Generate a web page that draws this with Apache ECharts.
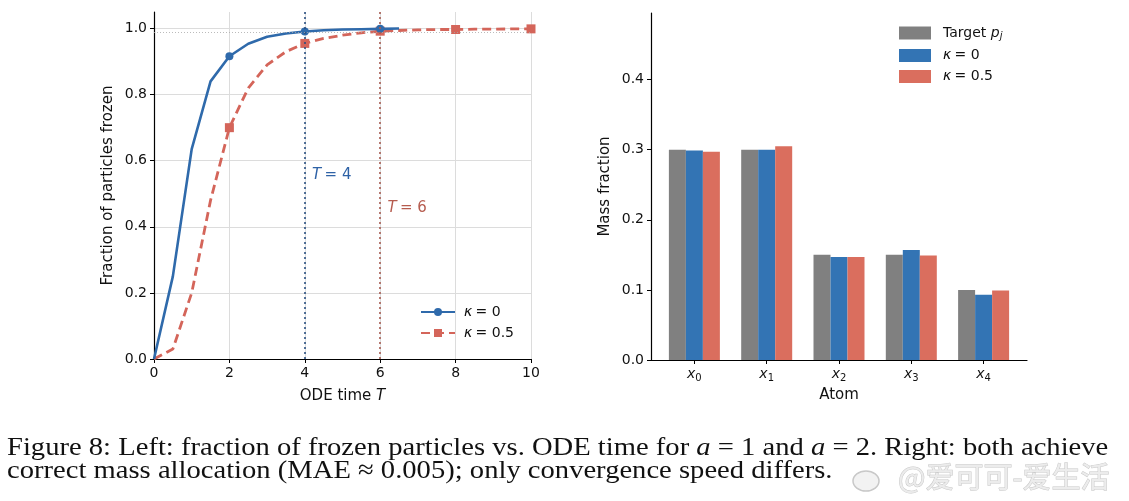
<!DOCTYPE html>
<html>
<head>
<meta charset="utf-8">
<script src="https://cdn.jsdelivr.net/npm/echarts@6/dist/echarts.min.js"></script>
<style>
  html, body { margin: 0; padding: 0; background: #fff; }
  #main { width: 1129px; height: 501px; }
</style>
</head>
<body>
<div id="main"></div>
<script>
// left panel: fraction frozen vs ODE time
const timeK0 = [0, 0.5, 1, 1.5, 2, 2.5, 3, 3.5, 4, 4.5, 5, 5.5, 6, 6.5];
const fracK0 = [0, 0.25, 0.635, 0.84, 0.916, 0.954, 0.975, 0.985, 0.991, 0.995, 0.997, 0.998, 0.999, 1.0];
const timeK05 = [0, 0.5, 1, 1.5, 2, 2.5, 3, 3.5, 4, 4.5, 5, 5.5, 6, 6.5, 7, 7.5, 8, 8.5, 9, 9.5, 10];
const fracK05 = [0, 0.03, 0.2, 0.48, 0.70, 0.82, 0.89, 0.93, 0.955, 0.97, 0.98, 0.987, 0.992, 0.994, 0.996, 0.997, 0.997, 0.998, 0.998, 0.999, 0.999];
const markerTimes = [2, 4, 6, 8, 10];
const xTicksLeft = [0, 2, 4, 6, 8, 10];
const yTicksLeft = [0, 0.2, 0.4, 0.6, 0.8, 1.0];

// right panel: mass allocation per atom
const atoms = ["0", "1", "2", "3", "4"];
const atomPos = [0, 1, 2, 3, 4];
const targetP = [0.300, 0.300, 0.150, 0.150, 0.100];
const massK0 = [0.299, 0.300, 0.147, 0.157, 0.093];
const massK05 = [0.297, 0.305, 0.147, 0.149, 0.099];
const yTicksRight = [0, 0.1, 0.2, 0.3, 0.4];

const blue = "#2f6aab";
const red = "#d4655a";
const barBlue = "#3374b4";
const barRed = "#da6e5e";
const barGray = "#808080";
const font = "DejaVu Sans";
const serif = "'Liberation Serif'";

const chart = echarts.init(document.getElementById("main"));

function pairs(xs, ys) {
  return xs.map((x, i) => [x, ys[i]]);
}
function markSize(size) {
  return (val) => (markerTimes.includes(val[0]) ? size : 0);
}

const mathRich = {
  i: { fontStyle: "italic", fontFamily: font, fontSize: 14, color: "#111" },
  n: { fontFamily: font, fontSize: 14, color: "#111" },
  s: { fontStyle: "italic", fontFamily: font, fontSize: 10, color: "#111", padding: [7, 0, 0, 0] },
  u: { fontFamily: font, fontSize: 10, color: "#111", padding: [7, 0, 0, 0] },
};
const nameRich = {
  n: { fontFamily: font, fontSize: 15, color: "#111" },
  i: { fontFamily: font, fontSize: 15, color: "#111", fontStyle: "italic" },
};

let option = {
  animation: false,
  grid: [
    { left: 154, top: 12, width: 377, height: 347 },
    { left: 651, top: 13, width: 376, height: 347 },
  ],
  legend: [
    {
      orient: "vertical",
      left: 420,
      top: 305,
      padding: 0,
      itemWidth: 34,
      itemHeight: 10,
      itemGap: 7,
      data: ["k0", "k05"],
      formatter: (name) => (name === "k0" ? "{i|κ} {n|= 0}" : "{i|κ} {n|= 0.5}"),
      textStyle: { rich: mathRich, padding: [0, 0, 0, 4] },
    },
    {
      orient: "vertical",
      left: 899,
      top: 26,
      padding: 0,
      itemWidth: 32,
      itemHeight: 13,
      itemGap: 7,
      icon: "rect",
      data: ["target", "b0", "b05"],
      formatter: (name) =>
        name === "target" ? "{n|Target }{i|p}{s|j}" : name === "b0" ? "{i|κ} {n|= 0}" : "{i|κ} {n|= 0.5}",
      textStyle: { rich: mathRich, padding: [0, 0, 0, 7] },
    },
  ],
  xAxis: [
    {
      type: "value",
      gridIndex: 0,
      min: 0,
      max: 10,
      name: "{n|ODE time }{i|T}",
      nameLocation: "middle",
      nameGap: 30,
      nameTextStyle: { rich: nameRich },
      axisLine: { lineStyle: { color: "#000", width: 1.2 } },
      axisTick: { show: true, length: 4, lineStyle: { color: "#000" }, customValues: xTicksLeft },
      axisLabel: { fontFamily: font, fontSize: 14, color: "#111", margin: 7, customValues: xTicksLeft },
      splitLine: { show: true, lineStyle: { color: "#dcdcdc", width: 1 } },
    },
    {
      type: "value",
      gridIndex: 1,
      min: -0.6,
      max: 4.6,
      name: "Atom",
      nameLocation: "middle",
      nameGap: 28,
      nameTextStyle: { fontFamily: font, fontSize: 15, color: "#111" },
      axisLine: { onZero: false, lineStyle: { color: "#000", width: 1.2 } },
      axisTick: { show: true, length: 4, lineStyle: { color: "#000" }, customValues: atomPos },
      axisLabel: {
        customValues: atomPos,
        margin: 6,
        formatter: (v) => "{i|x}{u|" + atoms[Math.round(v)] + "}",
        rich: mathRich,
      },
      splitLine: { show: false },
    },
  ],
  yAxis: [
    {
      type: "value",
      gridIndex: 0,
      min: 0,
      max: 1.05,
      name: "Fraction of particles frozen",
      nameLocation: "middle",
      nameGap: 38,
      nameTextStyle: { fontFamily: font, fontSize: 15, color: "#111" },
      axisLine: { show: true, onZero: false, lineStyle: { color: "#000", width: 1.2 } },
      axisTick: { show: true, length: 4, lineStyle: { color: "#000" }, customValues: yTicksLeft },
      axisLabel: { fontFamily: font, fontSize: 14, color: "#111", margin: 7,
        customValues: yTicksLeft, formatter: (v) => v.toFixed(1) },
      splitLine: { show: true, lineStyle: { color: "#dcdcdc", width: 1 } },
    },
    {
      type: "value",
      gridIndex: 1,
      min: 0,
      max: 0.495,
      name: "Mass fraction",
      nameLocation: "middle",
      nameGap: 38,
      nameTextStyle: { fontFamily: font, fontSize: 15, color: "#111" },
      axisLine: { show: true, onZero: false, lineStyle: { color: "#000", width: 1.2 } },
      axisTick: { show: true, length: 4, lineStyle: { color: "#000" }, customValues: yTicksRight },
      axisLabel: { fontFamily: font, fontSize: 14, color: "#111", margin: 7,
        customValues: yTicksRight, formatter: (v) => v.toFixed(1) },
      splitLine: { show: false },
    },
  ],
  series: [
    {
      name: "k0",
      type: "line",
      xAxisIndex: 0,
      yAxisIndex: 0,
      data: pairs(timeK0, fracK0),
      symbol: "circle",
      symbolSize: markSize(8),
      showAllSymbol: true,
      color: blue,
      lineStyle: { color: blue, width: 2.6 },
      itemStyle: { color: blue },
      z: 4,
      markLine: {
        silent: true,
        symbol: "none",
        label: { show: false },
        data: [
          { xAxis: 4, lineStyle: { color: "#2a4f80", type: [2, 3], width: 1.6 } },
          [
            { coord: [0, 0.99], lineStyle: { color: "#aaaaaa", type: [1, 2], width: 0.8 } },
            { coord: [10, 0.99] },
          ],
        ],
      },
      markPoint: {
        silent: true,
        symbol: "rect",
        symbolSize: 1,
        itemStyle: { color: "rgba(0,0,0,0)" },
        data: [{
          coord: [4.18, 0.557],
          label: {
            show: true, position: "right", distance: 0,
            formatter: "{i|T} {n|= 4}",
            rich: {
              i: { fontStyle: "italic", fontFamily: font, fontSize: 15, color: "#2e62a6" },
              n: { fontFamily: font, fontSize: 15, color: "#2e62a6" },
            },
          },
        }],
      },
    },
    {
      name: "k05",
      type: "line",
      xAxisIndex: 0,
      yAxisIndex: 0,
      data: pairs(timeK05, fracK05),
      symbol: "rect",
      symbolSize: markSize(9),
      showAllSymbol: true,
      color: red,
      lineStyle: { color: red, width: 2.8, type: [9, 5] },
      itemStyle: { color: red },
      z: 3,
      markLine: {
        silent: true,
        symbol: "none",
        label: { show: false },
        data: [{ xAxis: 6, lineStyle: { color: "#a65a50", type: [2, 3], width: 1.6 } }],
      },
      markPoint: {
        silent: true,
        symbol: "rect",
        symbolSize: 1,
        itemStyle: { color: "rgba(0,0,0,0)" },
        data: [{
          coord: [6.18, 0.457],
          label: {
            show: true, position: "right", distance: 0,
            formatter: "{i|T} {n|= 6}",
            rich: {
              i: { fontStyle: "italic", fontFamily: font, fontSize: 15, color: "#b65c4f" },
              n: { fontFamily: font, fontSize: 15, color: "#b65c4f" },
            },
          },
        }],
      },
    },
    {
      name: "target",
      type: "bar",
      xAxisIndex: 1,
      yAxisIndex: 1,
      data: pairs(atomPos, targetP),
      barWidth: 17,
      barGap: "0%",
      color: barGray,
      itemStyle: { color: barGray },
    },
    {
      name: "b0",
      type: "bar",
      xAxisIndex: 1,
      yAxisIndex: 1,
      data: pairs(atomPos, massK0),
      barWidth: 17,
      barGap: "0%",
      color: barBlue,
      itemStyle: { color: barBlue },
    },
    {
      name: "b05",
      type: "bar",
      xAxisIndex: 1,
      yAxisIndex: 1,
      data: pairs(atomPos, massK05),
      barWidth: 17,
      barGap: "0%",
      color: barRed,
      itemStyle: { color: barRed },
    },
  ],
  graphic: [
    {
      type: "text",
      x: 7,
      y: 461,
      scaleX: 1.1,
      style: {
        text: "Figure 8: Left: fraction of frozen particles vs. ODE time for {i|a} = 1 and {i|a} = 2. Right: both achieve",
        font: "26px " + serif,
        fill: "#111",
        verticalAlign: "bottom",
        rich: { i: { font: "italic 26px " + serif, fill: "#111" } },
      },
    },
    {
      type: "text",
      x: 7,
      y: 484,
      scaleX: 1.1,
      style: {
        text: "correct mass allocation (MAE ≈ 0.005); only convergence speed differs.",
        font: "26px " + serif,
        fill: "#111",
        verticalAlign: "bottom",
      },
    },
    {
      type: "ellipse",
      shape: { cx: 866, cy: 481, rx: 13, ry: 10 },
      style: { fill: "#f2f2f2", stroke: "#c8c8c8", lineWidth: 1.5 },
    },
    {
      type: "text",
      x: 898,
      y: 491,
      style: {
        text: "@爱可可-爱生活",
        font: "29px 'Noto Sans CJK SC'",
        fill: "#ececec",
        stroke: "#c8c8c8",
        lineWidth: 1,
        verticalAlign: "bottom",
      },
    },
  ],
};

chart.setOption(option);
</script>
</body>
</html>
